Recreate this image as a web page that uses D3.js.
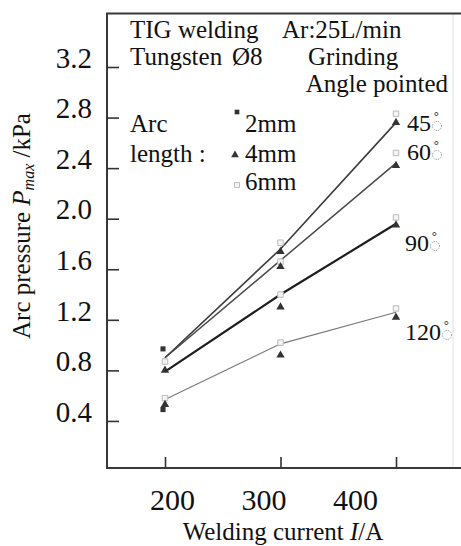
<!DOCTYPE html>
<html>
<head>
<meta charset="utf-8">
<script src="https://cdn.jsdelivr.net/npm/d3@7/dist/d3.min.js"></script>
<style>
  html, body { margin: 0; padding: 0; background: #fff; }
  svg { display: block; }
  text { font-family: "Liberation Serif", "Times New Roman", serif; fill: #111; }
</style>
</head>
<body>
<svg id="chart" width="461" height="546"></svg>
<script>
// ---------------- data ----------------
const currents = [200, 300, 400];
const xTickLabels = ["200", "300", "400"];
const yTicks = [0.4, 0.8, 1.2, 1.6, 2.0, 2.4, 2.8, 3.2];

const angleNames = ["45", "60", "90", "120"];
const line45 = [0.90, 1.76, 2.76];
const line60 = [0.90, 1.67, 2.44];
const line90 = [0.79, 1.40, 1.96];
const line120 = [0.57, 1.01, 1.26];

// measured points by arc length
const arc2Current = [200, 200];
const arc2Value = [0.97, 0.49];
const arc4Current = [200, 200, 300, 300, 300, 300, 400, 400, 400, 400];
const arc4Value = [0.80, 0.53, 1.74, 1.62, 1.30, 0.92, 2.76, 2.42, 1.95, 1.22];
const arc6Current = [200, 200, 300, 300, 300, 300, 400, 400, 400, 400];
const arc6Value = [0.87, 0.58, 1.81, 1.66, 1.40, 1.02, 2.83, 2.52, 2.01, 1.29];

const legendNames = ["2mm", "4mm", "6mm"];

// ---------------- layout ----------------
const svg = d3.select("#chart");
const frame = { left: 107, top: 13.5, bottom: 468, right: 461 };

const x = d3.scaleLinear().domain([200, 400]).range([165, 396]);
const xLabel = d3.scaleLinear().domain([200, 400]).range([172, 355]);
const y = d3.scaleLinear().domain([0, 3.2]).range([471.5, 67]);

// frame
svg.append("line").attr("x1", 453).attr("x2", 453).attr("y1", frame.top).attr("y2", frame.bottom)
  .attr("stroke", "#e6e6e6").attr("stroke-width", 1.2);
svg.append("path")
  .attr("d", `M${frame.right},${frame.top}H${frame.left}V${frame.bottom}H${frame.right}`)
  .attr("fill", "none").attr("stroke", "#383838").attr("stroke-width", 2);

// y axis
const yAxis = d3.axisLeft(y).tickValues(yTicks).tickFormat(d3.format(".1f"))
  .tickSizeInner(-12).tickSizeOuter(0).tickPadding(15);
const gy = svg.append("g").attr("transform", `translate(${frame.left},0)`).call(yAxis);
gy.select(".domain").remove();
gy.selectAll(".tick line").attr("stroke", "#333").attr("stroke-width", 1.6);
gy.selectAll(".tick text").attr("font-family", "Liberation Serif, serif")
  .attr("font-size", 29).attr("fill", "#111").attr("transform", "translate(0,-9)");

// x axis ticks
const xAxis = d3.axisBottom(x).tickValues(currents).tickFormat("")
  .tickSizeInner(-11).tickSizeOuter(0);
const gx = svg.append("g").attr("transform", `translate(0,${frame.bottom})`).call(xAxis);
gx.select(".domain").remove();
gx.selectAll(".tick line").attr("stroke", "#333").attr("stroke-width", 1.6);

// x labels (positioned as in the original)
const xLab = d3.axisBottom(xLabel).tickValues(currents).tickFormat((d, i) => xTickLabels[i])
  .tickSize(0).tickPadding(0);
const gxl = svg.append("g").attr("transform", `translate(0,${frame.bottom})`).call(xLab);
gxl.select(".domain").remove();
gxl.selectAll(".tick text").attr("font-family", "Liberation Serif, serif")
  .attr("font-size", 30).attr("fill", "#111").attr("dy", null).attr("y", 42);

// axis titles
svg.append("text").attr("x", 283).attr("y", 540).attr("text-anchor", "middle")
  .attr("font-size", 25)
  .html('Welding current <tspan font-style="italic">I</tspan>/A');

const yt = svg.append("text").attr("transform", "translate(30,226) rotate(-90)")
  .attr("text-anchor", "middle").attr("font-size", 25);
yt.append("tspan").text("Arc pressure ");
yt.append("tspan").attr("font-style", "italic").text("P");
yt.append("tspan").attr("font-style", "italic").attr("font-size", 16).attr("dy", 4).text("max");
yt.append("tspan").attr("dy", -4).text(" /kPa");

// lines
const lineSeries = [line45, line60, line90, line120];
const lineStyles = [
  { stroke: "#3a3a3a", w: 1.6 },
  { stroke: "#4a4a4a", w: 1.5 },
  { stroke: "#1e1e1e", w: 2.2 },
  { stroke: "#7a7a7a", w: 1.2 }
];
const lineGen = d3.line().x((d, i) => x(currents[i])).y(d => y(d));
lineSeries.forEach((s, k) => {
  svg.append("path").attr("d", lineGen(s)).attr("fill", "none")
    .attr("stroke", lineStyles[k].stroke).attr("stroke-width", lineStyles[k].w);
});

// markers
const sq = d3.symbol().type(d3.symbolSquare);
const tri = d3.symbol().type(d3.symbolTriangle);
svg.append("g").selectAll("path").data(arc6Value).join("path")
  .attr("d", sq.size(30)())
  .attr("transform", (d, i) => `translate(${x(arc6Current[i])},${y(d)})`)
  .attr("fill", "#f4f4f4").attr("stroke", "#bbb").attr("stroke-width", 1);
svg.append("g").selectAll("path").data(arc4Value).join("path")
  .attr("d", tri.size(30)())
  .attr("transform", (d, i) => `translate(${x(arc4Current[i])},${y(d)})`)
  .attr("fill", "#333");
svg.append("g").selectAll("path").data(arc2Value).join("path")
  .attr("d", sq.size(26)())
  .attr("transform", (d, i) => `translate(${x(arc2Current[i]) - 2},${y(d)})`)
  .attr("fill", "#333");

// angle labels: number + degree ring, with the dotted placeholder circle under the ring
const angleLabelPos = [[407, 131], [407, 160], [405, 251], [405, 340]];
angleNames.forEach((a, k) => {
  const [lx, ly] = angleLabelPos[k];
  const t = svg.append("text").attr("x", lx).attr("y", ly).attr("font-size", 24);
  const num = t.append("tspan").text(a);
  t.append("tspan").attr("font-size", 20).attr("fill", "#444")
    .attr("dx", 2).attr("dy", -4).text("\u02DA");
  const w = num.node().getComputedTextLength();
  svg.append("circle").attr("cx", lx + w + 6).attr("cy", ly - 5).attr("r", 4.5)
    .attr("fill", "none").attr("stroke", "#888").attr("stroke-width", 0.9)
    .attr("stroke-dasharray", "1.2,1.2");
});

// annotation text
const ann = [
  { t: "TIG welding", x: 130, y: 38 },
  { t: "Ar:25L/min", x: 282, y: 38 },
  { t: "Tungsten", x: 130, y: 65 },
  { t: "Ø8", x: 232, y: 65 },
  { t: "Grinding", x: 308, y: 65 },
  { t: "Arc", x: 130, y: 132 },
  { t: "length :", x: 130, y: 162 }
];
ann.forEach(a => svg.append("text").attr("x", a.x).attr("y", a.y).attr("font-size", 25).text(a.t));
svg.append("text").attr("x", 448).attr("y", 92).attr("font-size", 25)
  .attr("text-anchor", "end").text("Angle pointed");

// legend
const legY = [132, 162, 190];
const legMarkY = [112, 155, 185];
legendNames.forEach((n, i) => {
  svg.append("text").attr("x", 245).attr("y", legY[i]).attr("font-size", 25).text(n);
});
svg.append("path").attr("d", sq.size(22)()).attr("transform", `translate(237,${legMarkY[0]})`).attr("fill", "#333");
svg.append("path").attr("d", tri.size(26)()).attr("transform", `translate(235,${legMarkY[1]})`).attr("fill", "#333");
svg.append("path").attr("d", sq.size(26)()).attr("transform", `translate(237,${legMarkY[2]})`)
  .attr("fill", "#f4f4f4").attr("stroke", "#bbb");
</script>
</body>
</html>
